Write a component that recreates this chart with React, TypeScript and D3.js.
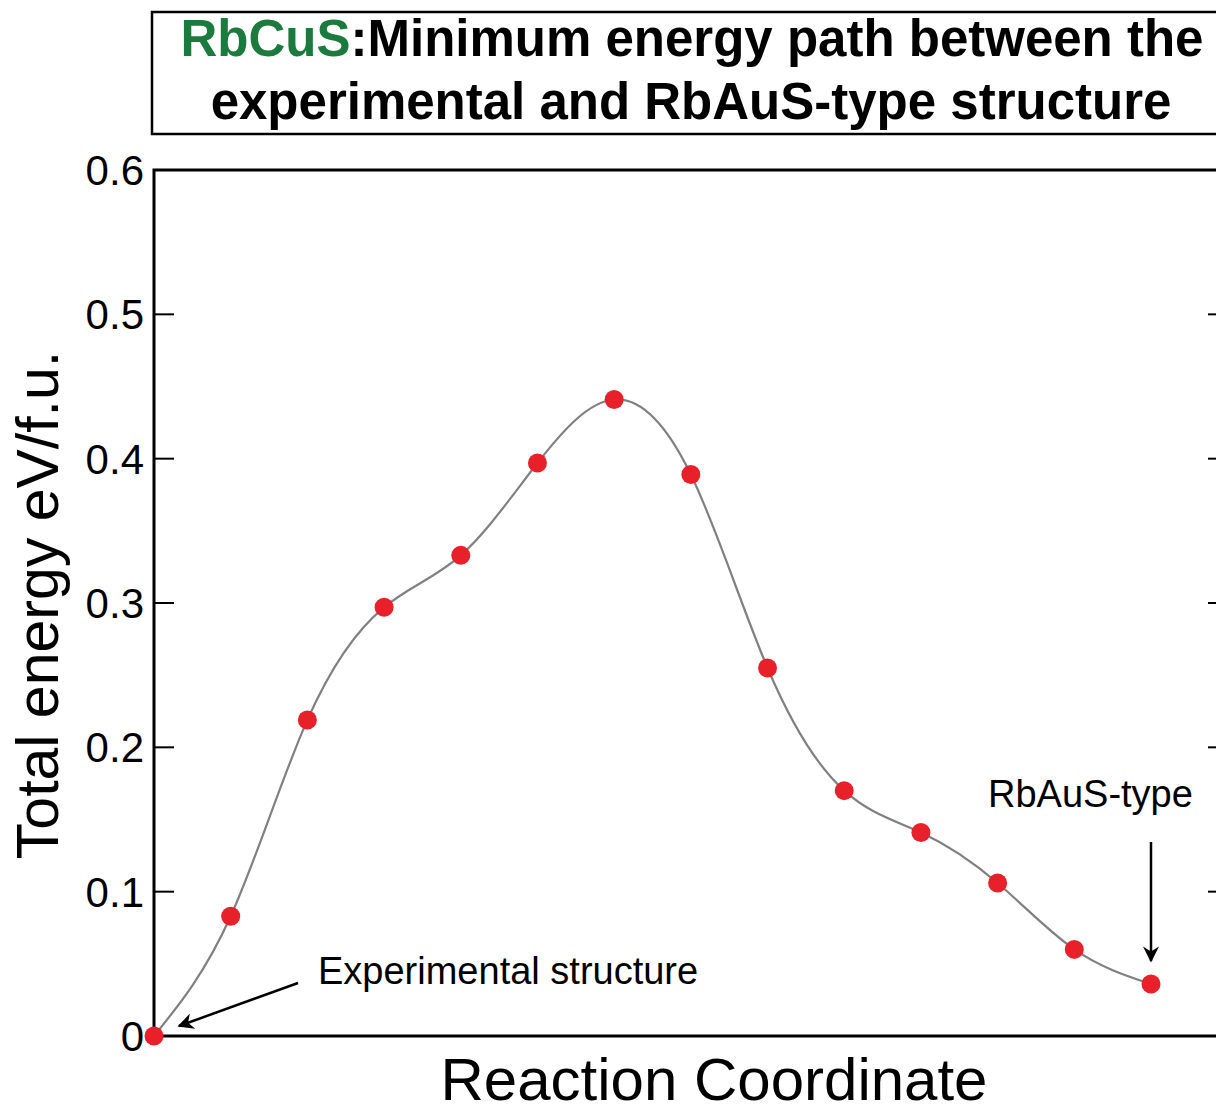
import React, { useEffect, useRef } from "react";
import * as d3 from "d3";

// image index along the reaction path and total energy (eV/f.u.)
const images = [0, 1, 2, 3, 4, 5, 6, 7, 8, 9, 10, 11, 12, 13];
const energies = [0, 0.083, 0.219, 0.297, 0.333, 0.397, 0.441, 0.389, 0.255, 0.17, 0.141, 0.106, 0.06, 0.036];
const yTicks = [0, 0.1, 0.2, 0.3, 0.4, 0.5, 0.6];

const W = 1216;
const H = 1114;
const FONT = "'Liberation Sans', Arial, Helvetica, sans-serif";

export default function App() {
  const svgRef = useRef<SVGSVGElement>(null);

  useEffect(() => {
    const svg = d3.select(svgRef.current);
    svg.selectAll("*").remove();

    const left = 154;
    const right = 1218;
    const top = 170;
    const bottom = 1036;

    const x = d3.scaleLinear().domain([0, 13]).range([left, 1151]);
    const y = d3.scaleLinear().domain([0, 0.6]).range([bottom, top]);

    svg
      .append("defs")
      .append("marker")
      .attr("id", "arrow")
      .attr("viewBox", "0 0 10 10")
      .attr("refX", 9)
      .attr("refY", 5)
      .attr("markerWidth", 20)
      .attr("markerHeight", 16)
      .attr("markerUnits", "userSpaceOnUse")
      .attr("orient", "auto")
      .append("path")
      .attr("d", "M0,0 L10,5 L0,10 L3,5 Z")
      .attr("fill", "#000");

    // title box
    svg
      .append("rect")
      .attr("x", 152)
      .attr("y", 12)
      .attr("width", 1090)
      .attr("height", 122)
      .attr("fill", "none")
      .attr("stroke", "#000")
      .attr("stroke-width", 2.5);

    const t1 = svg
      .append("text")
      .attr("x", 692)
      .attr("y", 56)
      .attr("text-anchor", "middle")
      .attr("font-family", FONT)
      .attr("font-weight", "bold")
      .attr("font-size", 51);
    t1.append("tspan").attr("fill", "#1b7b3e").text("RbCuS");
    t1.append("tspan").attr("fill", "#000").text(":Minimum energy path between the");

    svg
      .append("text")
      .attr("x", 691)
      .attr("y", 119)
      .attr("text-anchor", "middle")
      .attr("font-family", FONT)
      .attr("font-weight", "bold")
      .attr("font-size", 51)
      .text("experimental and RbAuS-type structure");

    // frame
    svg
      .append("path")
      .attr("d", `M${right},${top} H${left} V${bottom} H${right}`)
      .attr("fill", "none")
      .attr("stroke", "#000")
      .attr("stroke-width", 3);

    // ticks
    const inner = yTicks.filter((d) => d > 0 && d < 0.6);
    svg
      .append("g")
      .selectAll("line")
      .data(inner)
      .join("line")
      .attr("x1", left)
      .attr("x2", left + 20)
      .attr("y1", (d) => y(d))
      .attr("y2", (d) => y(d))
      .attr("stroke", "#000")
      .attr("stroke-width", 2);
    svg
      .append("g")
      .selectAll("line")
      .data(inner)
      .join("line")
      .attr("x1", 1208)
      .attr("x2", right)
      .attr("y1", (d) => y(d))
      .attr("y2", (d) => y(d))
      .attr("stroke", "#000")
      .attr("stroke-width", 2);

    svg
      .append("g")
      .selectAll("text")
      .data(yTicks)
      .join("text")
      .attr("x", 144)
      .attr("y", (d) => y(d))
      .attr("dy", "0.36em")
      .attr("text-anchor", "end")
      .attr("font-family", FONT)
      .attr("font-size", 42)
      .text((d) => (d === 0 ? "0" : d3.format(".1f")(d)));

    // axis titles
    svg
      .append("text")
      .attr("transform", `translate(58,${(top + bottom) / 2 + 2}) rotate(-90)`)
      .attr("text-anchor", "middle")
      .attr("font-family", FONT)
      .attr("font-size", 59)
      .text("Total energy eV/f.u.");

    svg
      .append("text")
      .attr("x", 714)
      .attr("y", 1100)
      .attr("text-anchor", "middle")
      .attr("font-family", FONT)
      .attr("font-size", 60)
      .text("Reaction Coordinate");

    // curve
    const line = d3
      .line<number>()
      .x((d, i) => x(images[i]))
      .y((d) => y(d))
      .curve(d3.curveNatural);

    svg
      .append("path")
      .datum(energies)
      .attr("d", line)
      .attr("fill", "none")
      .attr("stroke", "#808080")
      .attr("stroke-width", 2.2);

    svg
      .append("g")
      .selectAll("circle")
      .data(energies)
      .join("circle")
      .attr("cx", (d, i) => x(images[i]))
      .attr("cy", (d) => y(d))
      .attr("r", 9.5)
      .attr("fill", "#e8202a");

    // annotations
    svg
      .append("text")
      .attr("x", 318)
      .attr("y", 984)
      .attr("font-family", FONT)
      .attr("font-size", 38)
      .text("Experimental structure");
    svg
      .append("line")
      .attr("x1", 298)
      .attr("y1", 983)
      .attr("x2", 179)
      .attr("y2", 1026)
      .attr("stroke", "#000")
      .attr("stroke-width", 2.5)
      .attr("marker-end", "url(#arrow)");

    svg
      .append("text")
      .attr("x", 988)
      .attr("y", 807)
      .attr("font-family", FONT)
      .attr("font-size", 38)
      .text("RbAuS-type");
    svg
      .append("line")
      .attr("x1", x(13))
      .attr("y1", 842)
      .attr("x2", x(13))
      .attr("y2", 961)
      .attr("stroke", "#000")
      .attr("stroke-width", 2.5)
      .attr("marker-end", "url(#arrow)");
  }, []);

  return (
    <svg
      ref={svgRef}
      width={W}
      height={H}
      style={{ display: "block", position: "absolute", left: 0, top: 0, background: "#fff" }}
    />
  );
}
